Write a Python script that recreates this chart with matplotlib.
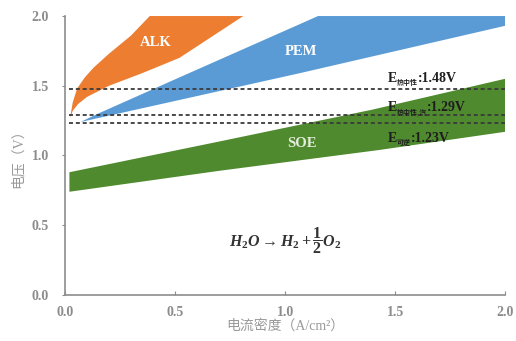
import matplotlib
matplotlib.use("Agg")
import matplotlib.pyplot as plt
from matplotlib import transforms

plt.rcParams['font.family'] = ['Liberation Serif', 'Noto Sans CJK SC', 'DejaVu Sans']
plt.rcParams['mathtext.fontset'] = 'custom'
plt.rcParams['mathtext.rm'] = 'Liberation Serif:bold'
plt.rcParams['mathtext.it'] = 'Liberation Serif:italic:bold'
plt.rcParams['mathtext.bf'] = 'Liberation Serif:bold'
plt.rcParams['mathtext.fallback'] = 'stix'

# 各电解技术的极化区间（电流密度 A/cm², 电压 V）
alk_upper_x = [0.023, 0.035, 0.055, 0.09, 0.13, 0.20, 0.30, 0.385, 0.81]
alk_upper_y = [1.27, 1.38, 1.48, 1.56, 1.63, 1.73, 1.86, 2.00, 2.00]
alk_lower_x = [0.023, 0.035, 0.06, 0.10, 0.20, 0.35, 0.52, 0.81]
alk_lower_y = [1.27, 1.32, 1.37, 1.42, 1.50, 1.59, 1.70, 2.00]

pem_upper_x = [0.07, 0.15, 0.52, 1.15, 2.00]
pem_upper_y = [1.24, 1.30, 1.56, 2.00, 2.00]
pem_lower_x = [0.07, 1.066, 2.00]
pem_lower_y = [1.24, 1.59, 1.93]

soe_upper_x = [0.02, 0.70, 1.40, 2.00]
soe_upper_y = [0.88, 1.10, 1.33, 1.55]
soe_lower_x = [0.02, 0.70, 1.43, 2.00]
soe_lower_y = [0.74, 0.89, 1.04, 1.17]

# 参考电压
ref_names = ['热中性', '热中性,汽', '可逆']
ref_values = [1.48, 1.29, 1.23]
ref_label_y = [1.53, 1.32, 1.095]

x_ticks = [0.0, 0.5, 1.0, 1.5, 2.0]
y_ticks = [0.0, 0.5, 1.0, 1.5, 2.0]

fig = plt.figure(figsize=(5.16, 3.41), dpi=100)
ax = fig.add_axes([0.126, 0.135, 0.853, 0.818])

gray = '#8c8c8c'


def band(xu, yu, xl, yl, color):
    xs = list(xu) + list(xl[::-1])
    ys = list(yu) + list(yl[::-1])
    ax.fill(xs, ys, color=color, lw=0, zorder=2)


band(alk_upper_x, alk_upper_y, alk_lower_x, alk_lower_y, '#ED7D31')
band(pem_upper_x, pem_upper_y, pem_lower_x, pem_lower_y, '#5B9BD5')
band(soe_upper_x, soe_upper_y, soe_lower_x, soe_lower_y, '#4F8A2F')

for v in ref_values:
    ax.plot([0.02, 2.0], [v, v], color='#3a3a3a', lw=1.3,
            linestyle=(0, (2.2, 1.6)), zorder=3)

ax.text(0.41, 1.81, 'ALK', color='white', fontsize=10.5, fontweight='bold',
        ha='center', va='center', zorder=4)
ax.text(1.07, 1.745, 'PEM', color='white', fontsize=10.5, fontweight='bold',
        ha='center', va='center', zorder=4)
ax.text(1.075, 1.085, 'SOE', color='#e4eedc', fontsize=10.5, fontweight='bold',
        ha='center', va='center', zorder=4)

# E 带中文下标的标注，逐段拼接
renderer = fig.canvas.get_renderer()
for name, v, ly in zip(ref_names, ref_values, ref_label_y):
    t1 = ax.text(1.465, ly, 'E', fontsize=10, fontweight='bold', color='#1e1e1e',
                 va='baseline', ha='left', zorder=5)
    w1 = t1.get_window_extent(renderer).width * 72 / fig.dpi
    tr2 = transforms.offset_copy(ax.transData, fig=fig, x=w1, y=-2.5, units='points')
    t2 = ax.text(1.465, ly, name, transform=tr2, fontsize=5, fontweight='bold',
                 color='#1e1e1e', family='Noto Sans CJK SC', va='baseline',
                 ha='left', zorder=5)
    w2 = t2.get_window_extent(renderer).width * 72 / fig.dpi
    tr3 = transforms.offset_copy(ax.transData, fig=fig, x=w1 + w2, y=0, units='points')
    ax.text(1.465, ly, ':%.2fV' % v, transform=tr3, fontsize=10, fontweight='bold',
            color='#1e1e1e', va='baseline', ha='left', zorder=5)

ax.text(1.0, 0.39, r'$H_2O \rightarrow H_2 + \dfrac{1}{2}O_2$',
        fontsize=11.5, color='#333333', ha='center', va='center')

ax.set_xlim(0, 2.0)
ax.set_ylim(0, 2.0)
ax.set_xticks(x_ticks)
ax.set_yticks(y_ticks)
ax.set_xticklabels(['%.1f' % t for t in x_ticks])
ax.set_yticklabels(['%.1f' % t for t in y_ticks])
for lab in ax.get_xticklabels() + ax.get_yticklabels():
    lab.set_fontweight('bold')
ax.tick_params(axis='x', direction='in', length=3, color=gray, labelcolor=gray,
               labelsize=10, pad=8)
ax.tick_params(axis='y', direction='out', length=2.5, color=gray, labelcolor=gray,
               labelsize=10, pad=9)

for s in ['top', 'right']:
    ax.spines[s].set_visible(False)
for s in ['left', 'bottom']:
    ax.spines[s].set_color(gray)
    ax.spines[s].set_linewidth(1.2)

ax.set_xlabel('电流密度（A/cm²）', color='#999999', fontsize=10, labelpad=0)
ax.set_ylabel('电压（V）', color='#999999', fontsize=10, labelpad=5)

fig.savefig('out.png', dpi=100)
